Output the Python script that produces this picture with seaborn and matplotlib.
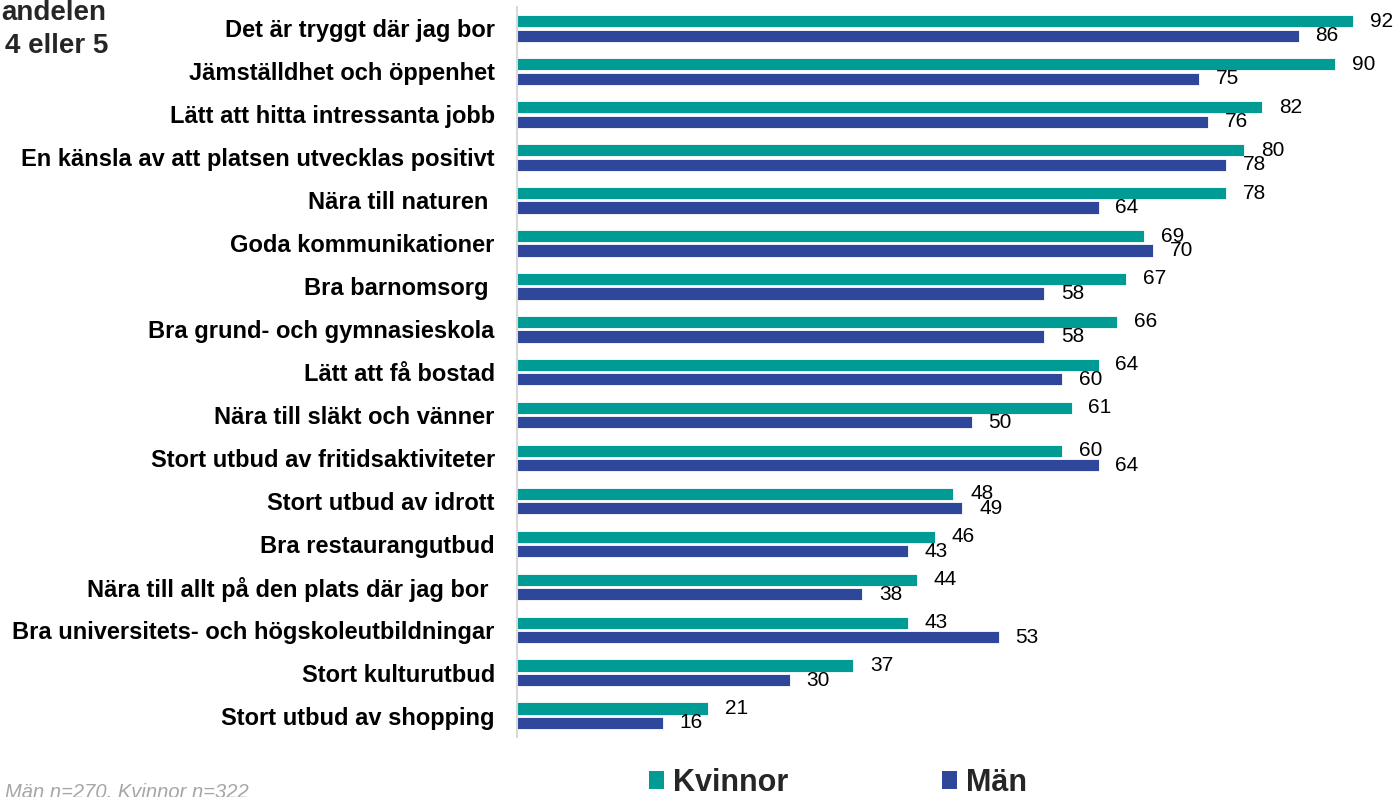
import pandas as pd
import matplotlib.pyplot as plt
import seaborn as sns
from matplotlib.patches import Patch

categories = [
    'Det är tryggt där jag bor',
    'Jämställdhet och öppenhet',
    'Lätt att hitta intressanta jobb',
    'En känsla av att platsen utvecklas positivt',
    'Nära till naturen ',
    'Goda kommunikationer',
    'Bra barnomsorg ',
    'Bra grund- och gymnasieskola',
    'Lätt att få bostad',
    'Nära till släkt och vänner',
    'Stort utbud av fritidsaktiviteter',
    'Stort utbud av idrott',
    'Bra restaurangutbud',
    'Nära till allt på den plats där jag bor ',
    'Bra universitets- och högskoleutbildningar',
    'Stort kulturutbud',
    'Stort utbud av shopping',
]
kvinnor = [92, 90, 82, 80, 78, 69, 67, 66, 64, 61, 60, 48, 46, 44, 43, 37, 21]
man = [86, 75, 76, 78, 64, 70, 58, 58, 60, 50, 64, 49, 43, 38, 53, 30, 16]
series = ['Kvinnor', 'Män']
colors = ['#009B95', '#2F479B']

df = pd.DataFrame({'kategori': categories * 2,
                   'kon': ['Kvinnor'] * len(categories) + ['Män'] * len(categories),
                   'andel': kvinnor + man})

sns.set_style('white')
plt.rcParams['font.family'] = ['Liberation Sans', 'DejaVu Sans']

fig = plt.figure(figsize=(13.96, 7.97), dpi=100)
ax = fig.add_axes([0.3704, 0.075, 0.6296, 0.9162])

sns.barplot(data=df, y='kategori', x='andel', hue='kon', hue_order=series,
            palette=colors, saturation=1, orient='h', width=0.675, gap=0.16,
            edgecolor='white', linewidth=0.6, legend=False, ax=ax)

for cont in ax.containers:
    ax.bar_label(cont, fmt='%d', padding=12, fontsize=15, color='black')

ax.set_xlim(0, 96.7)
ax.set_ylim(16.5, -0.5)
ax.set_xlabel('')
ax.set_ylabel('')
ax.set_xticks([])
ax.tick_params(axis='y', length=0, pad=16)
for lab in ax.get_yticklabels():
    lab.set_fontweight('bold')
    lab.set_fontsize(17)
    lab.set_color('black')

for s in ['top', 'right', 'bottom']:
    ax.spines[s].set_visible(False)
ax.spines['left'].set_color('#D9D9D9')
ax.spines['left'].set_linewidth(1.5)

# title fragment, cut at the left edge as in the original
fig.text(106 / 1396, 1 - 20 / 797, 'andelen', ha='right', va='baseline',
         fontsize=20, fontweight='bold')
fig.text(108 / 1396, 1 - 53 / 797, '4 eller 5', ha='right', va='baseline',
         fontsize=20, fontweight='bold')
fig.text(5 / 1396, 1 - 792 / 797, 'Män n=270, Kvinnor n=322', ha='left', va='center',
         fontsize=14.5, style='italic', color='#A6A6A6')

handles = [Patch(facecolor=c, edgecolor='none') for c in colors]
fig.legend(handles, series, loc='center', bbox_to_anchor=(838 / 1396, 1 - 783 / 797),
           ncol=2, frameon=False, prop={'size': 22, 'weight': 'bold'},
           handlelength=0.5, handleheight=0.5, handletextpad=0.3,
           columnspacing=5.0, borderpad=0)

fig.savefig('out.png', dpi=100)
